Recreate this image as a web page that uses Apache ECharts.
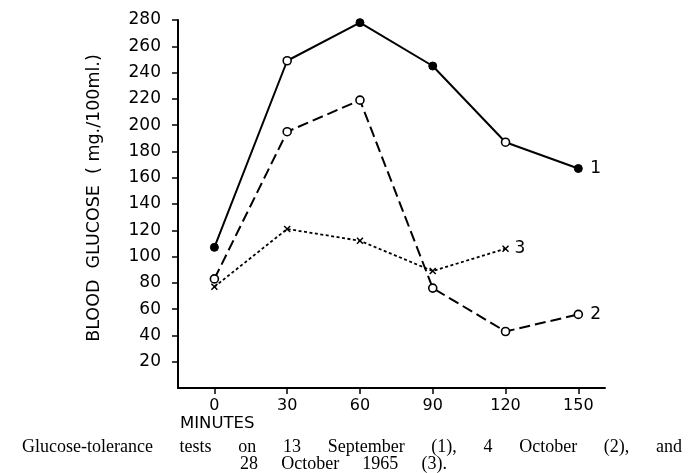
<!DOCTYPE html>
<html><head><meta charset="utf-8">
<script src="https://cdn.jsdelivr.net/npm/echarts@6/dist/echarts.min.js"></script>
<style>html,body{margin:0;padding:0;background:#fff}#c{width:696px;height:473px}</style>
</head><body><div id="c"></div>
<script>
const minutes = [0, 30, 60, 90, 120, 150];
const test1 = [107, 249, 278, 245, 187, 167];
const test1Filled = [true, false, true, true, false, true];
const test2 = [83, 195, 219, 76, 43, 56];
const test3 = [77, 121, 112, 89, 106, null];
const seriesLabels = ['1', '2', '3'];
const xTickValues = [0, 30, 60, 90, 120, 150];
const yTickValues = [20, 40, 60, 80, 100, 120, 140, 160, 180, 200, 220, 240, 260, 280];
const yAxisTitle = 'BLOOD  GLUCOSE  ( mg./100ml.)';
const xAxisTitle = 'MINUTES';
const captionLine1 = 'Glucose-tolerance tests on 13 September (1), 4 October (2), and';
const captionLine2 = '28 October 1965 (3).';

const axisFont = '"DejaVu Sans", sans-serif';
const serifFont = '"Liberation Serif", serif';

function pairs(vals) {
  return minutes.map((m, i) => [m, vals[i]]).filter(p => p[1] != null);
}

const s1Data = minutes.map((m, i) => ({
  value: [m, test1[i]],
  itemStyle: test1Filled[i] ? { color: '#000', borderColor: '#000', borderWidth: 1 } : { color: '#fff', borderColor: '#000', borderWidth: 1.6 }
}));

// justified caption lines
const ctx = document.createElement('canvas').getContext('2d');
const capSize = 18;
ctx.font = capSize + 'px "Liberation Serif"';
function justify(text, left, right, top) {
  const words = text.split(' ');
  const widths = words.map(w => ctx.measureText(w).width);
  const totalW = widths.reduce((a, b) => a + b, 0);
  const gap = (right - left - totalW) / (words.length - 1);
  const els = [];
  let cx = left;
  words.forEach((w, i) => {
    els.push({ type: 'text', x: cx, y: top, style: { text: w, font: capSize + 'px ' + serifFont, fill: '#000', textVerticalAlign: 'top' } });
    cx += widths[i] + gap;
  });
  return els;
}
const captionEls = [
  ...justify(captionLine1, 22, 682, 438),
  ...justify(captionLine2, 240, 447, 455),
  { type: 'text', x: 180, y: 415, style: { text: xAxisTitle, font: '16.5px ' + axisFont, fill: '#000', textVerticalAlign: 'top' } }
];

const chart = echarts.init(document.getElementById('c'), null, { renderer: 'canvas' });
chart.setOption({
  backgroundColor: '#fff',
  animation: false,
  grid: { left: 178, right: 91, top: 20, bottom: 85, containLabel: false },
  xAxis: {
    type: 'value', min: -15, max: 161,
    axisLine: { show: true, onZero: false, lineStyle: { color: '#000', width: 2 } },
    axisTick: { show: true, length: 6, customValues: xTickValues, lineStyle: { color: '#000', width: 1.5 } },
    axisLabel: { customValues: xTickValues, color: '#000', fontFamily: axisFont, fontSize: 16, margin: 10 },
    splitLine: { show: false }
  },
  yAxis: {
    type: 'value', min: 0, max: 280, interval: 20,
    name: yAxisTitle, nameLocation: 'middle', nameGap: 75, nameRotate: 90,
    nameTextStyle: { color: '#000', fontFamily: axisFont, fontSize: 17.5, padding: [0, 0, 0, 12] },
    axisLine: { show: true, onZero: false, lineStyle: { color: '#000', width: 2 } },
    axisTick: { show: true, length: 6, customValues: yTickValues, lineStyle: { color: '#000', width: 1.5 } },
    axisLabel: { customValues: yTickValues, color: '#000', fontFamily: axisFont, fontSize: 17, margin: 17 },
    splitLine: { show: false }
  },
  series: [
    {
      type: 'line', data: s1Data, symbol: 'circle', symbolSize: 8,
      lineStyle: { color: '#000', width: 2 },
      endLabel: { show: true, formatter: seriesLabels[0], color: '#000', fontFamily: axisFont, fontSize: 17, distance: 12 },
      z: 3
    },
    {
      type: 'line', data: pairs(test2), symbol: 'circle', symbolSize: 8,
      itemStyle: { color: '#fff', borderColor: '#000', borderWidth: 1.6 },
      lineStyle: { color: '#000', width: 2, type: [11, 5] },
      endLabel: { show: true, formatter: seriesLabels[1], color: '#000', fontFamily: axisFont, fontSize: 17, distance: 12 },
      z: 4
    },
    {
      type: 'line', data: pairs(test3), symbol: 'path://M0,0L10,10M10,0L0,10', symbolSize: 6,
      itemStyle: { color: 'none', borderColor: '#000', borderWidth: 1.5 },
      lineStyle: { color: '#000', width: 1.8, type: [3, 2.5] },
      endLabel: { show: true, formatter: seriesLabels[2], color: '#000', fontFamily: axisFont, fontSize: 17, distance: 9 },
      z: 2
    }
  ],
  graphic: captionEls
});
</script></body></html>
